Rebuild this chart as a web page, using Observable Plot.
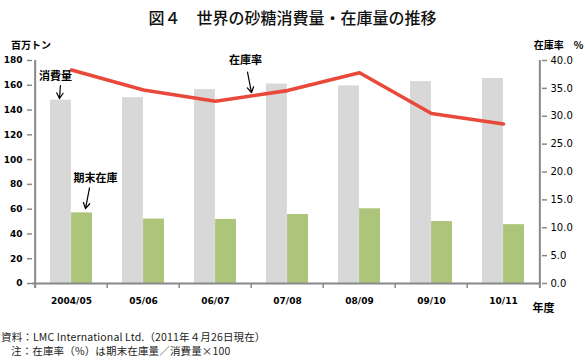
<!DOCTYPE html>
<html><head><meta charset="utf-8">
<script src="https://cdn.jsdelivr.net/npm/d3@7"></script>
<script src="https://cdn.jsdelivr.net/npm/@observablehq/plot@0.6"></script>
<style>
body{margin:0;background:#fff;width:585px;height:364px;overflow:hidden;font-family:"Noto Sans CJK JP",sans-serif;}
#title{height:34px;line-height:34px;text-align:center;font-size:16px;font-weight:500;color:#111;}
#chart svg{display:block;}
.note{font-size:10.5px;height:14px;line-height:14px;color:#222;white-space:pre;letter-spacing:0.15px;}
</style></head><body>
<div id="title">図４　世界の砂糖消費量・在庫量の推移</div>
<div id="chart"></div>
<div class="note" style="padding-left:1px">資料：LMC International Ltd.（2011年４月26日現在）</div>
<div class="note" style="padding-left:11px">注：在庫率（%）は期末在庫量／消費量×100</div>
<script>
const years = ["2004/05","05/06","06/07","07/08","08/09","09/10","10/11"];
const consumption = [148, 150, 156.5, 161, 159.5, 163, 165.5];
const stocks = [57, 52, 51.7, 55.7, 60.3, 50, 47.5];
const stockRatio = [38.3, 34.7, 32.7, 34.6, 37.8, 30.5, 28.6];
const leftTicks = [0, 20, 40, 60, 80, 100, 120, 140, 160, 180];
const rightTicks = [0, 5, 10, 15, 20, 25, 30, 35, 40];
const leftMax = 180, rightMax = 40;
const k = leftMax / rightMax;

// annotation labels (tied to category + value)
const labels = [
  {text: "消費量", year: "2004/05", value: 167, dx: -16},
  {text: "期末在庫", year: "2004/05", value: 84.7, dx: 24},
  {text: "在庫率", year: "06/07", value: 180, dx: 30}
];
const arrows = [
  {year: "2004/05", value: 149.3, dx: -12, len: 13, rot: 184},
  {year: "2004/05", value: 60.5, dx: 14, len: 21, rot: 191},
  {year: "06/07", value: 154, dx: 36, len: 21, rot: 169}
];

const W = 585, H = 296, ml = 32, mr = 44, mt = 26, mb = 47;
const step = (W - ml - mr) / years.length;
const pInner = 0.42;
const bw = step * (1 - pInner);

const rows = years.map((y, i) => ({year: y, cons: consumption[i], stock: stocks[i], ratio: stockRatio[i]}));

const arrowShape = {
  draw(ctx, l) {
    ctx.moveTo(0, 0);
    ctx.lineTo(0, -l);
    ctx.moveTo(-3.2, -l + 5.5);
    ctx.lineTo(0, -l);
    ctx.lineTo(3.2, -l + 5.5);
  }
};

const gray = "#888";
const plot = Plot.plot({
  width: W, height: H,
  marginLeft: ml, marginRight: mr, marginTop: mt, marginBottom: mb,
  style: {fontFamily: "DejaVu Sans, sans-serif", fontSize: "9px", color: "#000", background: "#fff"},
  x: {domain: years, paddingInner: pInner, paddingOuter: pInner / 2, axis: null, label: null},
  y: {domain: [0, leftMax], axis: null, label: null},
  marks: [
    Plot.barY(rows, {x: "year", y: "cons", fill: "#d8d8d8", insetRight: bw / 2}),
    Plot.barY(rows, {x: "year", y: "stock", fill: "#adc57a", insetLeft: bw / 2}),
    Plot.line(rows, {x: "year", y: d => d.ratio * k, stroke: "#e8493b", strokeWidth: 3.6}),
    // axis lines
    Plot.ruleY([0], {stroke: gray, strokeWidth: 2}),
    Plot.ruleX([years[0]], {dx: -step / 2, stroke: gray, strokeWidth: 2, insetBottom: -5}),
    Plot.ruleX([years[years.length - 1]], {dx: step / 2, stroke: gray, strokeWidth: 2, insetBottom: -5}),
    // x boundary ticks
    Plot.axisX({tickSize: 5, tickFormat: () => "", label: null, dx: -step / 2, stroke: gray, strokeWidth: 1.5}),
    Plot.axisX({tickSize: 0, tickPadding: 14, label: null, fontWeight: "bold", fontSize: 9}),
    Plot.axisY(leftTicks, {anchor: "left", label: null, tickSize: 5, tickPadding: 5, stroke: gray, strokeWidth: 1.5, fontWeight: "bold", fontSize: 9}),
    Plot.axisY(rightTicks.map(v => v * k), {anchor: "right", label: null, tickSize: 5, tickPadding: 4, stroke: gray, strokeWidth: 1.5,
      tickFormat: d => (d / k).toFixed(1), fontSize: 10}),
    // axis titles
    Plot.text(["百万トン"], {frameAnchor: "top-left", dx: -1.5, dy: -18.3, textAnchor: "middle", fontWeight: "bold", fontSize: 10, fontFamily: "Noto Sans CJK JP"}),
    Plot.text(["在庫率\u3000%"], {frameAnchor: "top-right", dx: 42, dy: -18.3, textAnchor: "end", fontWeight: "bold", fontSize: 10, fontFamily: "Noto Sans CJK JP"}),
    Plot.text(["年度"], {frameAnchor: "bottom-right", dx: 2, dy: 28.7, textAnchor: "middle", fontWeight: "bold", fontSize: 11, fontFamily: "Noto Sans CJK JP"}),
    // annotations
    ...labels.map(l => Plot.text([l], {x: "year", y: "value", text: "text", dx: l.dx, fontWeight: "bold", fontSize: 11, fontFamily: "Noto Sans CJK JP"})),
    ...arrows.map(a => Plot.vector([a], {x: "year", y: "value", dx: a.dx, length: a.len, rotate: a.rot, anchor: "end", shape: arrowShape, stroke: "#000", strokeWidth: 1.2}))
  ]
});
document.getElementById("chart").appendChild(plot);
</script>
</body></html>
